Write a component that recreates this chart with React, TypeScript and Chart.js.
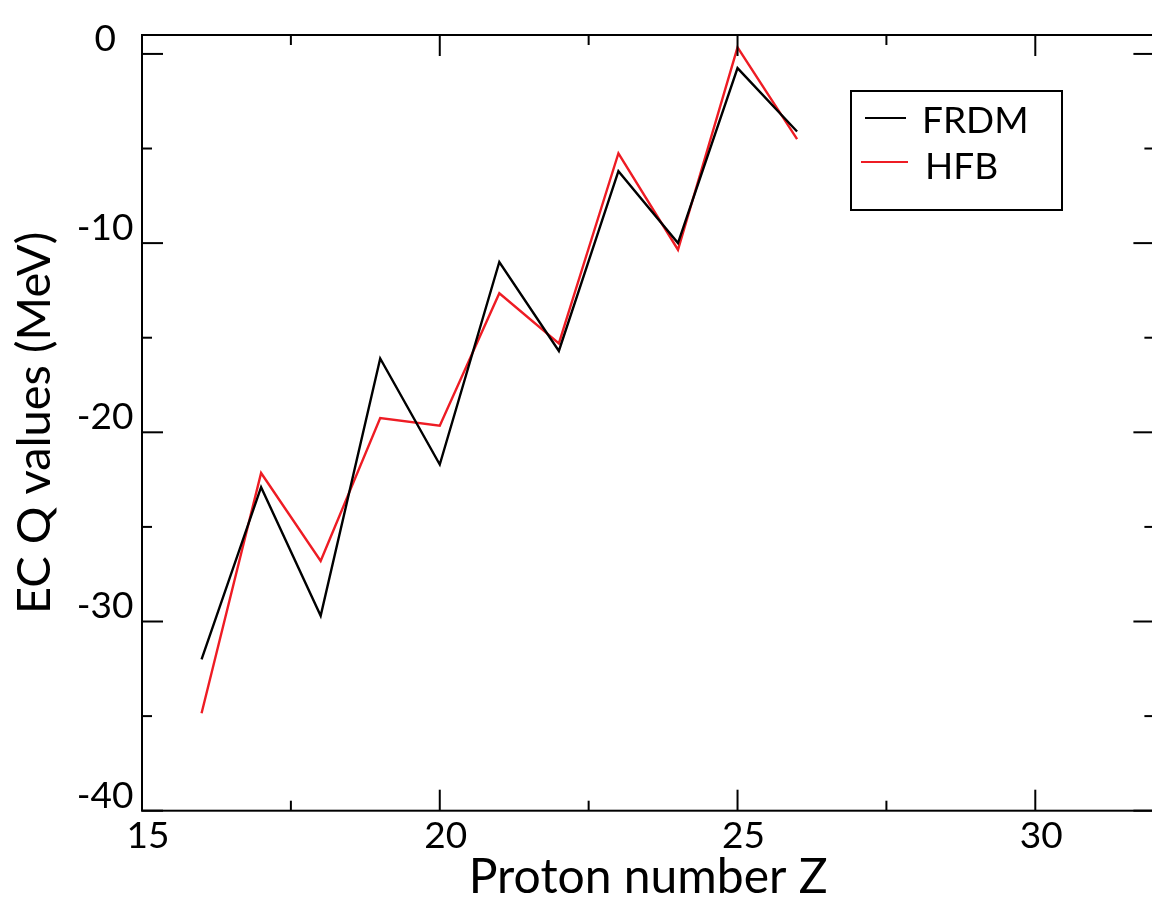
import React, { useEffect, useRef } from 'react';
import { Chart, registerables } from 'chart.js';

Chart.register(...registerables);

// ---- data ----
const protonNumbers = [16, 17, 18, 19, 20, 21, 22, 23, 24, 25, 26];
const frdmQ = [-32.0, -22.9, -29.7, -16.1, -21.7, -11.0, -15.7, -6.2, -10.0, -0.75, -4.1];
const hfbQ = [-34.85, -22.15, -26.8, -19.25, -19.65, -12.65, -15.3, -5.25, -10.35, 0.35, -4.5];
const seriesLabels = ['FRDM', 'HFB'];
const seriesColors = ['#000000', '#ee1c24'];

const xTickValues = [15, 20, 25, 30];
const xMinorTickValues = [17.5, 22.5, 27.5];
const yTickValues = [0, -10, -20, -30, -40];
const yMinorTickValues = [-5, -15, -25, -35];
const xRange = [15, 32];
const yRange = [-40, 1];

const xTitle = 'Proton number Z';
const yTitle = 'EC Q values (MeV)';

const FONT = 'Lato';

const framePlugin = {
  id: 'frameTicks',
  afterDatasetsDraw(chart: any) {
    const { ctx, chartArea: a, scales } = chart;
    const xs = scales.x;
    const ys = scales.y;
    ctx.save();
    ctx.strokeStyle = '#000';
    ctx.lineWidth = 2;
    ctx.strokeRect(a.left, a.top, a.right - a.left, a.bottom - a.top);
    const seg = (x1: number, y1: number, x2: number, y2: number) => {
      ctx.beginPath();
      ctx.moveTo(x1, y1);
      ctx.lineTo(x2, y2);
      ctx.stroke();
    };
    const major = 21;
    const minor = 10;
    xTickValues.forEach((v) => {
      const p = xs.getPixelForValue(v);
      seg(p, a.bottom, p, a.bottom - major);
      seg(p, a.top, p, a.top + major);
    });
    xMinorTickValues.forEach((v) => {
      const p = xs.getPixelForValue(v);
      seg(p, a.bottom, p, a.bottom - minor);
      seg(p, a.top, p, a.top + minor);
    });
    yTickValues.forEach((v) => {
      const p = ys.getPixelForValue(v);
      seg(a.left, p, a.left + major, p);
      seg(a.right, p, a.right - major, p);
    });
    yMinorTickValues.forEach((v) => {
      const p = ys.getPixelForValue(v);
      seg(a.left, p, a.left + minor, p);
      seg(a.right, p, a.right - minor, p);
    });
    ctx.restore();
  },
};

const boxLegendPlugin = {
  id: 'boxLegend',
  afterDraw(chart: any) {
    const { ctx } = chart;
    ctx.save();
    ctx.strokeStyle = '#000';
    ctx.lineWidth = 2;
    ctx.strokeRect(851, 91, 211, 119);
    chart.data.datasets.forEach((ds: any, i: number) => {
      const yy = 118 + i * 44;
      ctx.strokeStyle = ds.borderColor;
      ctx.lineWidth = 2;
      ctx.beginPath();
      ctx.moveTo(i === 0 ? 865 : 861, yy);
      ctx.lineTo(i === 0 ? 906 : 908, yy);
      ctx.stroke();
      ctx.fillStyle = '#000';
      ctx.font = `37px ${FONT}`;
      ctx.textAlign = 'left';
      ctx.textBaseline = 'alphabetic';
      ctx.fillText(ds.label, i === 0 ? 922 : 925, yy + 15 + i * 2);
    });
    ctx.restore();
  },
};

export default function App() {
  const canvasRef = useRef<HTMLCanvasElement | null>(null);

  useEffect(() => {
    const canvas = canvasRef.current;
    if (!canvas) return;
    const chart = new Chart(canvas, {
      type: 'line',
      data: {
        datasets: [
          {
            label: seriesLabels[0],
            data: protonNumbers.map((z, i) => ({ x: z, y: frdmQ[i] })),
            borderColor: seriesColors[0],
            backgroundColor: seriesColors[0],
            borderWidth: 2.4,
            pointRadius: 0,
            tension: 0,
            fill: false,
          },
          {
            label: seriesLabels[1],
            data: protonNumbers.map((z, i) => ({ x: z, y: hfbQ[i] })),
            borderColor: seriesColors[1],
            backgroundColor: seriesColors[1],
            borderWidth: 2.4,
            pointRadius: 0,
            tension: 0,
            fill: false,
          },
        ],
      },
      options: {
        animation: false,
        responsive: false,
        layout: { padding: { left: 0, top: 35, right: 15.6, bottom: 0 } },
        plugins: {
          legend: { display: false },
          tooltip: { enabled: false },
        },
        scales: {
          x: {
            type: 'linear',
            min: xRange[0],
            max: xRange[1],
            grid: { display: false, drawTicks: false },
            border: { display: false },
            afterBuildTicks: (scale: any) => {
              scale.ticks = xTickValues.map((v) => ({ value: v }));
            },
            afterFit: (scale: any) => {
              scale.height = 905 - 810.7;
            },
            ticks: {
              color: '#000',
              font: { family: FONT, size: 37 },
              padding: 3,
              labelOffset: 6,
              maxRotation: 0,
              autoSkip: false,
            },
            title: {
              display: true,
              text: xTitle,
              color: '#000',
              font: { family: FONT, size: 48, lineHeight: 1 },
              padding: { top: 0, bottom: 3 },
            },
          },
          y: {
            type: 'linear',
            min: yRange[0],
            max: yRange[1],
            grid: { display: false, drawTicks: false },
            border: { display: false },
            afterBuildTicks: (scale: any) => {
              scale.ticks = yTickValues.map((v) => ({ value: v }));
            },
            afterFit: (scale: any) => {
              scale.width = 142;
            },
            ticks: {
              color: '#000',
              font: { family: FONT, size: 37 },
              padding: 8.5,
              crossAlign: 'center',
              labelOffset: -15,
              autoSkip: false,
            },
            title: {
              display: true,
              text: yTitle,
              color: '#000',
              font: { family: FONT, size: 47, lineHeight: 1 },
              padding: { top: 11, bottom: 0 },
            },
          },
        },
      },
      plugins: [framePlugin, boxLegendPlugin],
    } as any);
    return () => chart.destroy();
  }, []);

  return (
    <div
      style={{
        position: 'absolute',
        left: 0,
        top: 0,
        width: 1152,
        height: 905,
        overflow: 'hidden',
        background: '#fff',
      }}
    >
      <canvas ref={canvasRef} width={1170} height={905} style={{ display: 'block' }} />
    </div>
  );
}
